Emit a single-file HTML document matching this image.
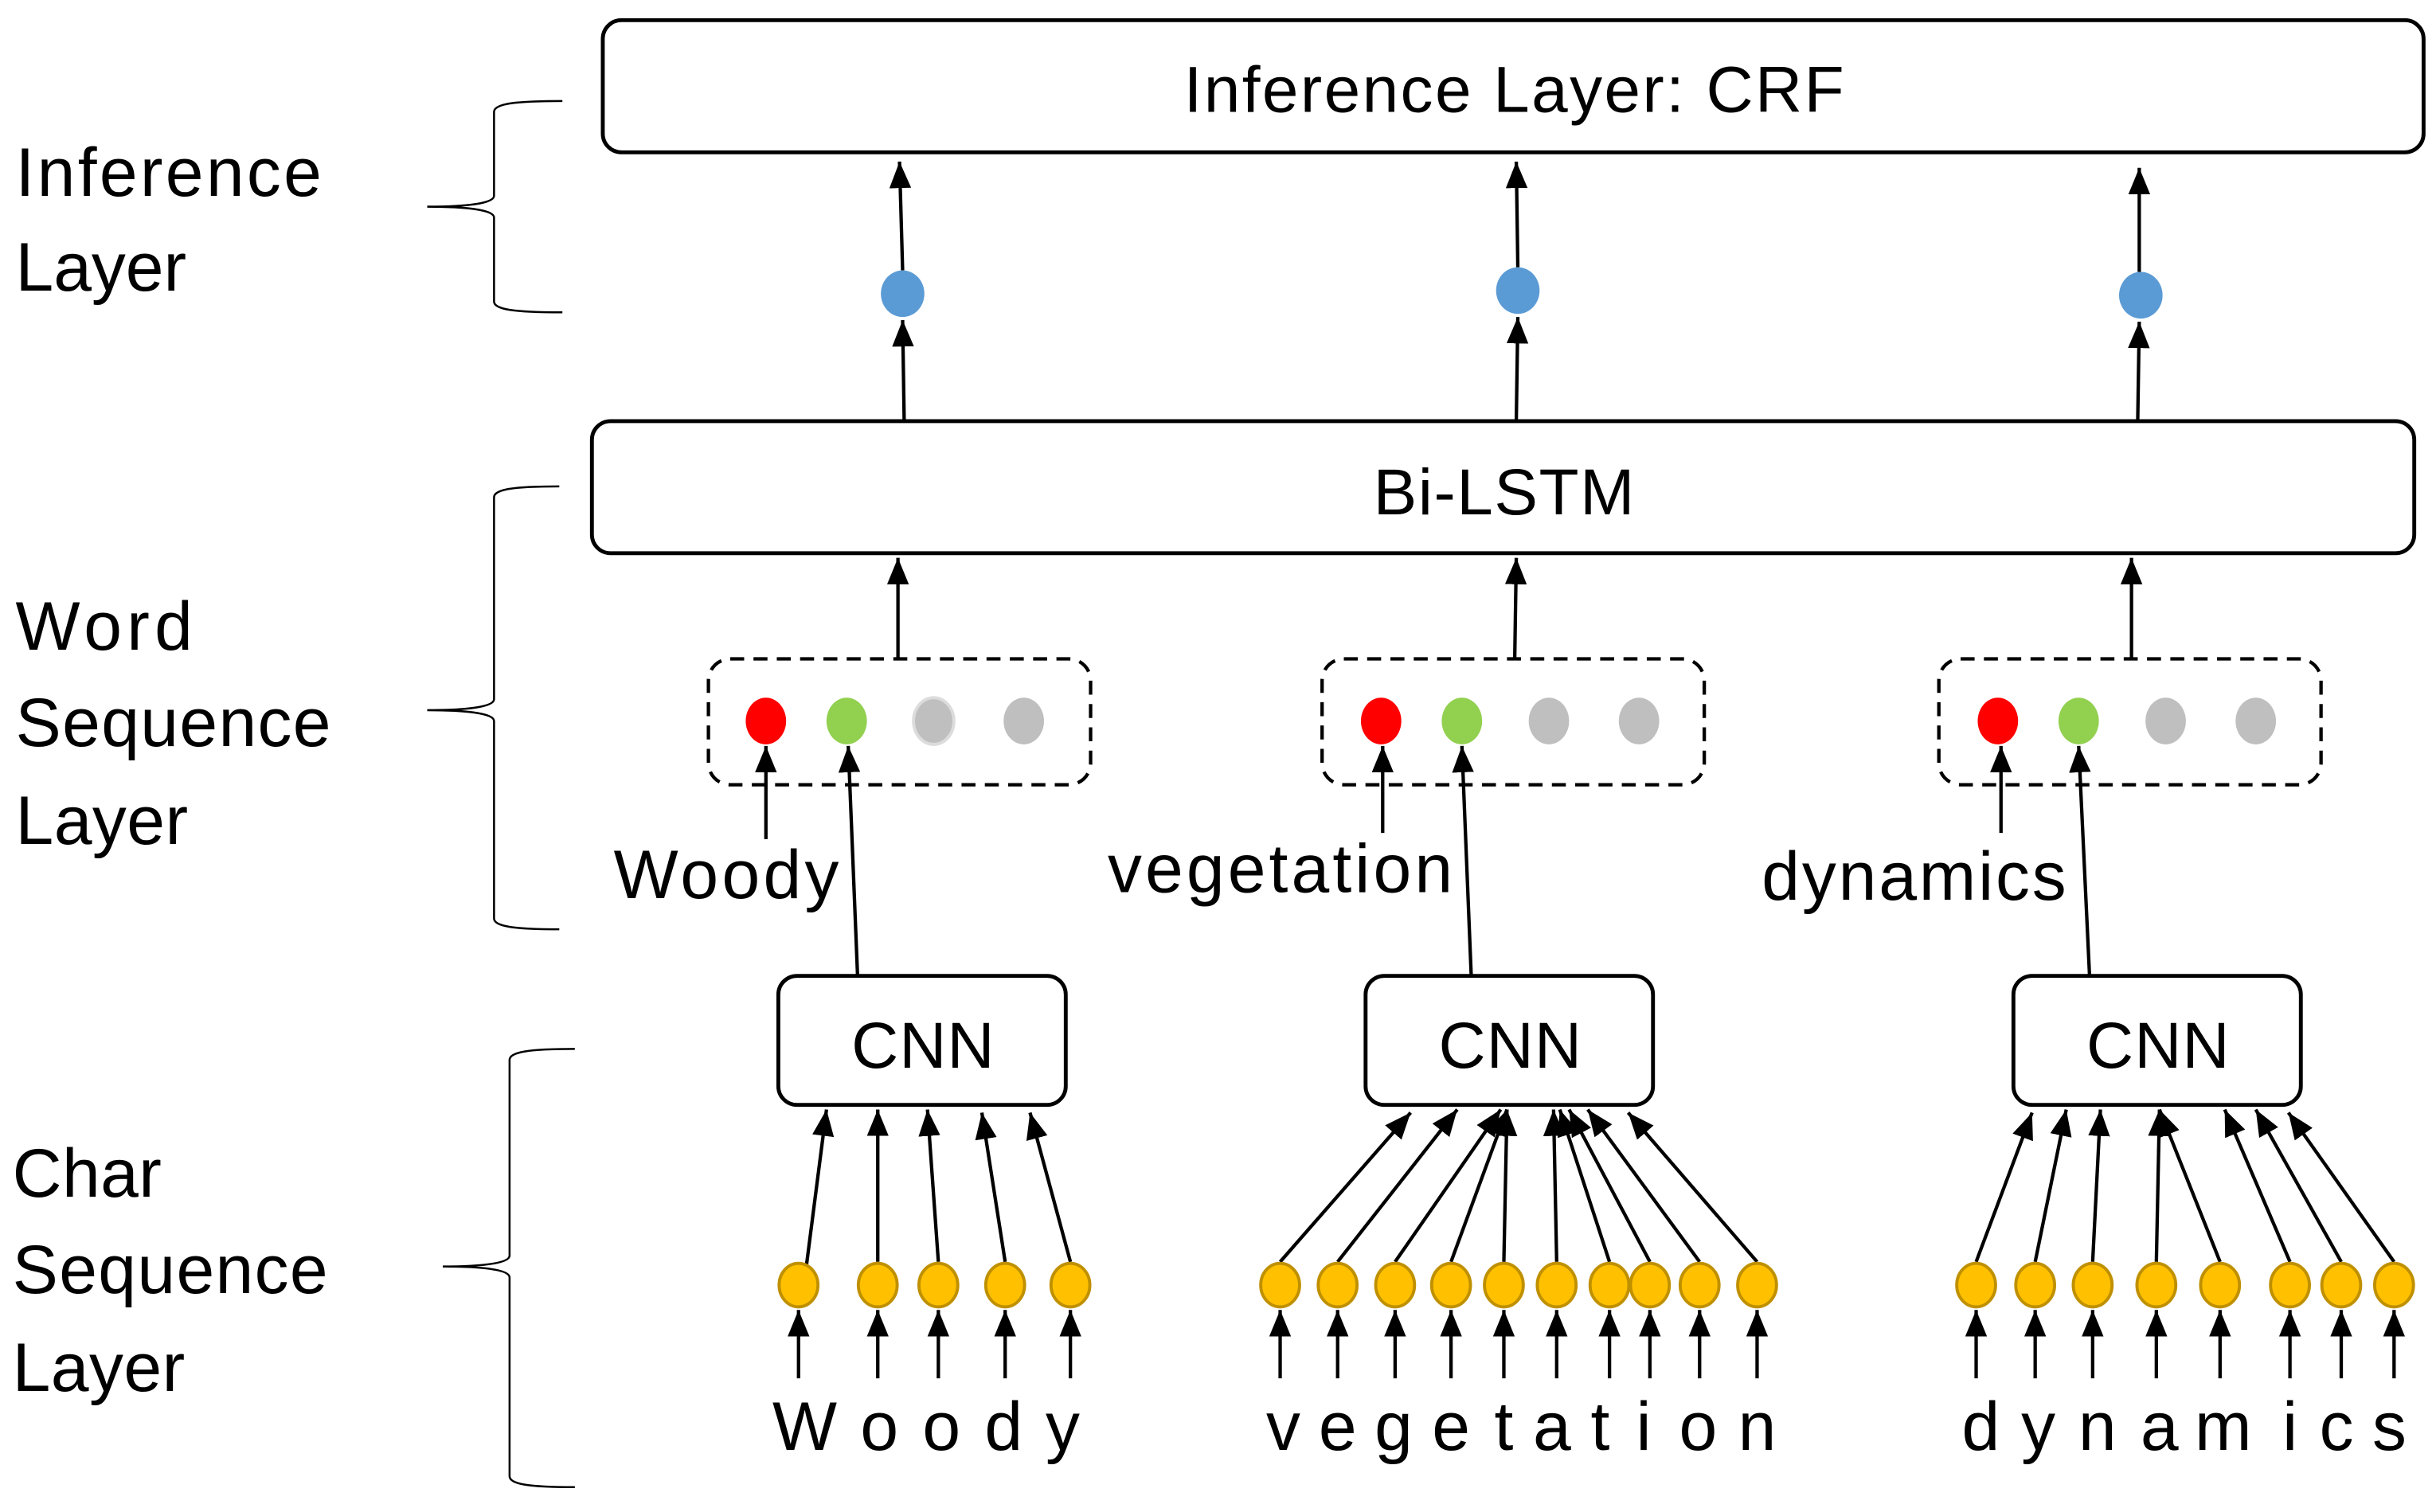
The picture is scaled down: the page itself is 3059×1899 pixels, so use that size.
<!DOCTYPE html>
<html><head><meta charset="utf-8"><style>
html,body{margin:0;padding:0;background:#fff;}
svg{display:block;}
text{font-family:"Liberation Sans",sans-serif;fill:#000;}
</style></head><body>
<svg width="3059" height="1899" viewBox="0 0 1568 973" preserveAspectRatio="none" xmlns="http://www.w3.org/2000/svg">
<defs>
<marker id="a" markerUnits="userSpaceOnUse" markerWidth="18" markerHeight="16" viewBox="0 0 18 16" refX="17" refY="7" orient="auto">
<path d="M0,0 L17,7 L0,14 Z" fill="#000"/>
</marker>
</defs>
<g stroke="#000" stroke-width="2.2" fill="none" marker-end="url(#a)">
<line x1="581" y1="174" x2="579" y2="104"/>
<line x1="977" y1="172" x2="976" y2="104"/>
<line x1="1377" y1="175" x2="1377" y2="108"/>
<line x1="582" y1="271" x2="581" y2="206"/>
<line x1="976" y1="271" x2="977" y2="204"/>
<line x1="1376" y1="271" x2="1377" y2="207"/>
<line x1="578" y1="424" x2="578" y2="359"/>
<line x1="975" y1="424" x2="976" y2="359"/>
<line x1="1372" y1="424" x2="1372" y2="359"/>
<line x1="493" y1="540" x2="493" y2="480"/>
<line x1="890" y1="536" x2="890" y2="480"/>
<line x1="1288" y1="536" x2="1288" y2="480"/>
<line x1="552" y1="628" x2="546" y2="480"/>
<line x1="947" y1="628" x2="941" y2="480"/>
<line x1="1345" y1="628" x2="1338" y2="480"/>
<line x1="519" y1="815" x2="532" y2="714"/>
<line x1="565" y1="812" x2="565" y2="714"/>
<line x1="604" y1="812" x2="597" y2="714"/>
<line x1="647" y1="812" x2="632" y2="716"/>
<line x1="689" y1="812" x2="663" y2="716"/>
<line x1="824" y1="812" x2="908" y2="716"/>
<line x1="861" y1="812" x2="938" y2="714"/>
<line x1="898" y1="812" x2="966" y2="714"/>
<line x1="934" y1="812" x2="970" y2="714"/>
<line x1="968" y1="812" x2="970" y2="714"/>
<line x1="1002" y1="812" x2="1000" y2="714"/>
<line x1="1036" y1="812" x2="1004" y2="714"/>
<line x1="1062" y1="812" x2="1010" y2="714"/>
<line x1="1094" y1="812" x2="1022" y2="714"/>
<line x1="1131" y1="812" x2="1048" y2="716"/>
<line x1="1272" y1="812" x2="1308" y2="716"/>
<line x1="1310" y1="812" x2="1330" y2="714"/>
<line x1="1347" y1="812" x2="1352" y2="714"/>
<line x1="1388" y1="812" x2="1390" y2="714"/>
<line x1="1429" y1="812" x2="1390" y2="714"/>
<line x1="1474" y1="812" x2="1432" y2="714"/>
<line x1="1507" y1="812" x2="1452" y2="714"/>
<line x1="1541" y1="812" x2="1473" y2="716"/>
<line x1="514" y1="887" x2="514" y2="843"/><line x1="565" y1="887" x2="565" y2="843"/><line x1="604" y1="887" x2="604" y2="843"/><line x1="647" y1="887" x2="647" y2="843"/><line x1="689" y1="887" x2="689" y2="843"/>
<line x1="824" y1="887" x2="824" y2="843"/><line x1="861" y1="887" x2="861" y2="843"/><line x1="898" y1="887" x2="898" y2="843"/><line x1="934" y1="887" x2="934" y2="843"/><line x1="968" y1="887" x2="968" y2="843"/><line x1="1002" y1="887" x2="1002" y2="843"/><line x1="1036" y1="887" x2="1036" y2="843"/><line x1="1062" y1="887" x2="1062" y2="843"/><line x1="1094" y1="887" x2="1094" y2="843"/><line x1="1131" y1="887" x2="1131" y2="843"/>
<line x1="1272" y1="887" x2="1272" y2="843"/><line x1="1310" y1="887" x2="1310" y2="843"/><line x1="1347" y1="887" x2="1347" y2="843"/><line x1="1388" y1="887" x2="1388" y2="843"/><line x1="1429" y1="887" x2="1429" y2="843"/><line x1="1474" y1="887" x2="1474" y2="843"/><line x1="1507" y1="887" x2="1507" y2="843"/><line x1="1541" y1="887" x2="1541" y2="843"/>
</g>
<g stroke="#000" stroke-width="2.5" fill="#fff">
<rect x="388" y="13" width="1172" height="85" rx="12"/>
<rect x="381" y="271" width="1173" height="85" rx="12"/>
<rect x="501" y="628" width="185" height="83" rx="12"/>
<rect x="879" y="628" width="185" height="83" rx="12"/>
<rect x="1296" y="628" width="185" height="83" rx="12"/>
</g>
<g stroke="#000" stroke-width="2.2" fill="none" stroke-dasharray="9,6">
<rect x="456" y="424" width="246" height="81" rx="14"/>
<rect x="851" y="424" width="246" height="81" rx="14"/>
<rect x="1248" y="424" width="246" height="81" rx="14"/>
</g>
<g fill="#5b9bd5">
<ellipse cx="581" cy="189" rx="14" ry="15"/><ellipse cx="977" cy="187" rx="14" ry="15"/><ellipse cx="1378" cy="190" rx="14" ry="15"/>
</g>
<g>
<ellipse cx="493" cy="464" rx="13" ry="15" fill="#ff0000"/><ellipse cx="545" cy="464" rx="13" ry="15" fill="#92d050"/><ellipse cx="601" cy="464" rx="13" ry="15" fill="#bfbfbf" stroke="#dcdcdc" stroke-width="2"/><ellipse cx="659" cy="464" rx="13" ry="15" fill="#bfbfbf"/>
<ellipse cx="889" cy="464" rx="13" ry="15" fill="#ff0000"/><ellipse cx="941" cy="464" rx="13" ry="15" fill="#92d050"/><ellipse cx="997" cy="464" rx="13" ry="15" fill="#bfbfbf"/><ellipse cx="1055" cy="464" rx="13" ry="15" fill="#bfbfbf"/>
<ellipse cx="1286" cy="464" rx="13" ry="15" fill="#ff0000"/><ellipse cx="1338" cy="464" rx="13" ry="15" fill="#92d050"/><ellipse cx="1394" cy="464" rx="13" ry="15" fill="#bfbfbf"/><ellipse cx="1452" cy="464" rx="13" ry="15" fill="#bfbfbf"/>
</g>
<g fill="#ffc000" stroke="#bf9000" stroke-width="2">
<ellipse cx="514" cy="827" rx="12.5" ry="14"/><ellipse cx="565" cy="827" rx="12.5" ry="14"/><ellipse cx="604" cy="827" rx="12.5" ry="14"/><ellipse cx="647" cy="827" rx="12.5" ry="14"/><ellipse cx="689" cy="827" rx="12.5" ry="14"/>
<ellipse cx="824" cy="827" rx="12.5" ry="14"/><ellipse cx="861" cy="827" rx="12.5" ry="14"/><ellipse cx="898" cy="827" rx="12.5" ry="14"/><ellipse cx="934" cy="827" rx="12.5" ry="14"/><ellipse cx="968" cy="827" rx="12.5" ry="14"/><ellipse cx="1002" cy="827" rx="12.5" ry="14"/><ellipse cx="1036" cy="827" rx="12.5" ry="14"/><ellipse cx="1062" cy="827" rx="12.5" ry="14"/><ellipse cx="1094" cy="827" rx="12.5" ry="14"/><ellipse cx="1131" cy="827" rx="12.5" ry="14"/>
<ellipse cx="1272" cy="827" rx="12.5" ry="14"/><ellipse cx="1310" cy="827" rx="12.5" ry="14"/><ellipse cx="1347" cy="827" rx="12.5" ry="14"/><ellipse cx="1388" cy="827" rx="12.5" ry="14"/><ellipse cx="1429" cy="827" rx="12.5" ry="14"/><ellipse cx="1474" cy="827" rx="12.5" ry="14"/><ellipse cx="1507" cy="827" rx="12.5" ry="14"/><ellipse cx="1541" cy="827" rx="12.5" ry="14"/>
</g>
<g stroke="#000" stroke-width="1.3" fill="none">
<path d="M362,65 C330,65 318,67 318,72 L318,126 C318,131 300,133 275,133 C300,133 318,135 318,140 L318,194 C318,199 330,201 362,201"/>
<path d="M360,313 C330,313 318,315 318,320 L318,450 C318,455 300,457 275,457 C300,457 318,459 318,464 L318,591 C318,596 330,598 360,598"/>
<path d="M370,675 C340,675 328,677 328,682 L328,808 C328,813 310,815 285,815 C310,815 328,817 328,822 L328,950 C328,955 340,957 370,957"/>
</g>
<g font-size="42">
<text x="762" y="72" textLength="425">Inference Layer: CRF</text>
<text x="884" y="331" textLength="168">Bi-LSTM</text>
<text x="548" y="687" textLength="92">CNN</text>
<text x="926" y="687" textLength="92">CNN</text>
<text x="1343" y="687" textLength="92">CNN</text>
</g>
<g font-size="44">
<text x="10" y="126" textLength="197">Inference</text>
<text x="10" y="187" textLength="110">Layer</text>
<text x="10" y="418" textLength="114">Word</text>
<text x="10" y="480" textLength="203">Sequence</text>
<text x="10" y="543" textLength="111">Layer</text>
<text x="8" y="770" textLength="96">Char</text>
<text x="8" y="832" textLength="203">Sequence</text>
<text x="8" y="895" textLength="111">Layer</text>
<text x="395" y="578" textLength="145">Woody</text>
<text x="713" y="574" textLength="222">vegetation</text>
<text x="1134" y="579" textLength="196">dynamics</text>
</g>
<g font-size="44" text-anchor="middle">
<text x="518" y="933">W</text><text x="566" y="933">o</text><text x="606" y="933">o</text><text x="646" y="933">d</text><text x="684" y="933">y</text>
<text x="826" y="933">v</text><text x="861" y="933">e</text><text x="897" y="933">g</text><text x="934" y="933">e</text><text x="968" y="933">t</text><text x="999" y="933">a</text><text x="1030" y="933">t</text><text x="1058" y="933">i</text><text x="1093" y="933">o</text><text x="1131" y="933">n</text>
<text x="1275" y="933">d</text><text x="1312" y="933">y</text><text x="1350" y="933">n</text><text x="1390" y="933">a</text><text x="1431" y="933">m</text><text x="1474" y="933">i</text><text x="1504" y="933">c</text><text x="1538" y="933">s</text>
</g>
</svg>
</body></html>
